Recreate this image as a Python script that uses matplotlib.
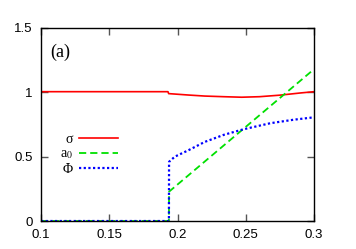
import matplotlib
matplotlib.use("Agg")
import matplotlib.pyplot as plt

# datos
x_sigma = [0.1, 0.193, 0.1935, 0.208, 0.22, 0.234, 0.247, 0.26, 0.275, 0.29, 0.3]
sigma = [1.005, 1.005, 0.99, 0.979, 0.971, 0.966, 0.962, 0.966, 0.978, 0.995, 1.005]

x_a0 = [0.1, 0.1937, 0.1938, 0.3]
a0 = [0.0, 0.0, 0.228, 1.18]

x_phi = [0.1, 0.1937, 0.1938, 0.198, 0.208, 0.22, 0.234, 0.248, 0.268, 0.285, 0.3]
phi = [0.0, 0.0, 0.46, 0.50, 0.55, 0.615, 0.67, 0.712, 0.76, 0.787, 0.806]

xticks = [0.1, 0.15, 0.2, 0.25, 0.3]
xticklabels = ["0.1", "0.15", "0.2", "0.25", "0.3"]
yticks = [0, 0.5, 1, 1.5]
yticklabels = ["0", "0.5", "1", "1.5"]

plt.rcParams['mathtext.fontset'] = 'stix'

fig = plt.figure(figsize=(3.56, 2.49), dpi=100)
ax = fig.add_axes([0.1152, 0.1124, 0.7669, 0.7752])

ax.plot(x_sigma, sigma, color='#ff0000', lw=1.2, label='σ')
ax.plot(x_a0, a0, color='#00e000', lw=1.3, dashes=(4, 2.2), label=r'a$_0$')
ax.plot(x_phi, phi, color='#0000ff', lw=1.6, dashes=(1, 1.1), label='Φ')

ax.set_xlim(0.1, 0.3)
ax.set_ylim(0, 1.5)
ax.set_xticks(xticks)
ax.set_xticklabels(xticklabels, family='Liberation Sans', fontsize=9.5)
ax.set_yticks(yticks)
ax.set_yticklabels(yticklabels, family='Liberation Sans', fontsize=9.5)
ax.tick_params(direction='in', top=True, right=True, length=5, width=1, color='#555555', pad=6)
for s in ax.spines.values():
    s.set_linewidth(1.0)

ax.text(0.035, 0.92, '(a)', transform=ax.transAxes, family='Liberation Serif', fontsize=13, va='top')

leg = ax.legend(loc='upper left', bbox_to_anchor=(0.022, 0.52), frameon=False, markerfirst=False,
                handlelength=2.8, handletextpad=0.5, labelspacing=0.1,
                prop={'family': 'Liberation Serif', 'size': 10})

fig.savefig('out.png', dpi=100)
